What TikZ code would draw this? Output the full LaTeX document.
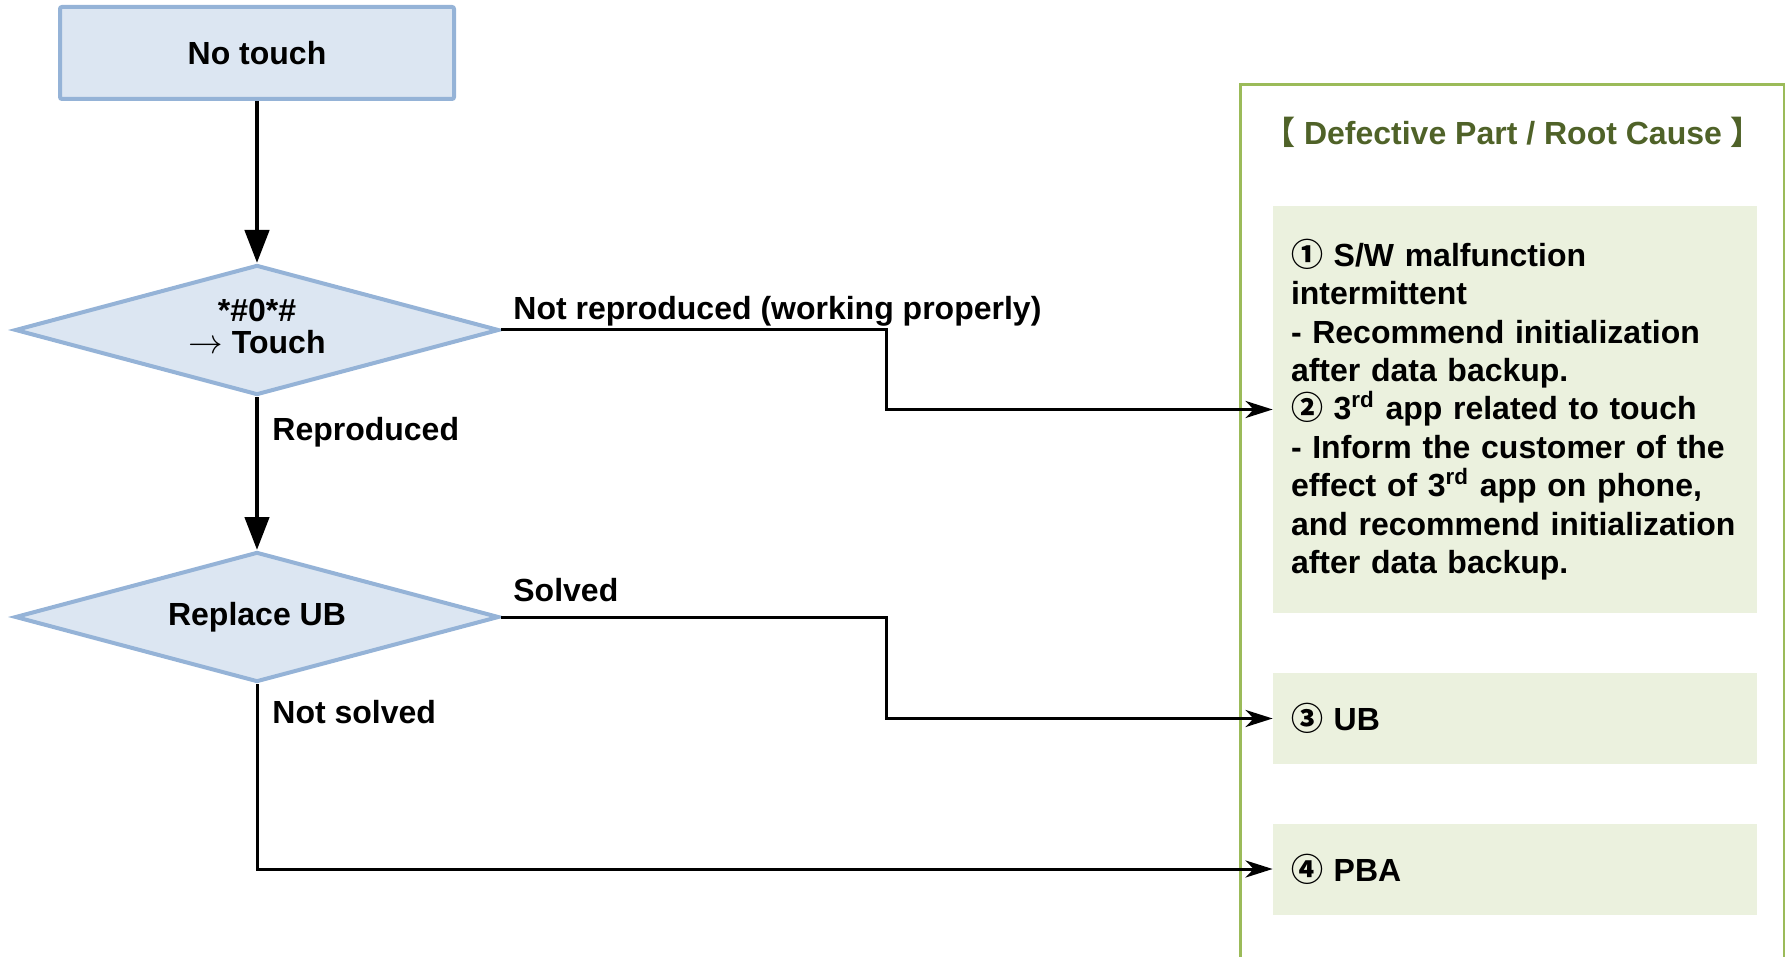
\documentclass[tikz,border=0pt]{standalone}
\usepackage{fontspec}
\setmainfont{Liberation Sans}
\newfontfamily\cjkf{Noto Sans CJK SC}
\usetikzlibrary{shapes.geometric,arrows.meta}
\definecolor{flowfill}{HTML}{DCE6F2}
\definecolor{flowline}{HTML}{95B3D7}
\definecolor{causeline}{HTML}{9BBB59}
\definecolor{causefill}{HTML}{EBF1DE}
\definecolor{causetitle}{HTML}{4F6228}
% circled numbers and corner brackets come from the CJK family
\newcommand{\cnum}[1]{{\cjkf #1}}

\begin{document}
\begin{tikzpicture}[x=0.5pt,y=-0.5pt,
  every node/.style={font=\fontsize{16}{19.2}\selectfont\bfseries, inner sep=0pt},
  startbox/.style={draw=flowline, fill=flowfill, line width=2pt, rounded corners=1pt,
    minimum width=197pt, minimum height=46pt},
  decision/.style={diamond, draw=flowline, fill=flowfill, line width=2pt, aspect=3.7,
    minimum width=242pt, minimum height=65pt, align=center},
  causebox/.style={fill=causefill, minimum width=242pt, text width=224pt,
    inner xsep=9pt, inner ysep=0pt, align=left},
  frame/.style={draw=causeline, line width=1.5pt, anchor=north west,
    minimum width=272pt, minimum height=460pt},
  mainflow/.style={line width=2.3pt, -{Triangle[width=12pt,length=16.5pt]}},
  branch/.style={line width=1.5pt, -{Stealth[length=13.5pt,width=8.5pt,inset=4pt]}},
  edgelabel/.style={anchor=base west},
]
\useasboundingbox (0,0) rectangle (1785,957);

% flow on the left
\node[startbox] (notouch) at (257,53) {No touch};
\node[decision, font=\fontsize{16}{16}\selectfont\bfseries] (d1) at (257,330)
  {*\#0*\#\\ $\rightarrow$ Touch\rule[-3.5pt]{0pt}{0pt}};
\node[decision] (d2) at (257,617) {Replace UB};

% cause panel on the right
\node[frame] (panel) at (1239,83) {};
\node[anchor=base, text=causetitle] (title) at (1513,145)
  {{\cjkf 【} Defective Part / Root Cause {\cjkf 】}};
\node[causebox, minimum height=203.5pt] (cause) at (1515,409.5)
  {\cnum{①} S/W malfunction\\
   intermittent\\
   - Recommend initialization\\
   after data backup.\\
   \cnum{②} 3\textsuperscript{rd} app related to touch\\
   - Inform the customer of the\\
   effect of 3\textsuperscript{rd} app on phone,\\
   and recommend initialization\\
   after data backup.};
\node[causebox, minimum height=45.5pt] (ub) at (1515,718.5) {\cnum{③} UB};
\node[causebox, minimum height=45.5pt] (pba) at (1515,869) {\cnum{④} PBA};

% connectors
\draw[mainflow] (notouch) -- (d1);
\draw[mainflow] (d1) -- (d2);
\coordinate (bendA) at (886,330);
\coordinate (bendB) at (886,617);
\draw[branch] (d1.east) -- (bendA) |- (cause.west);
\draw[branch] (d2.east) -- (bendB) |- (ub.west);
\draw[branch] (d2.south) |- (pba.west);

% branch labels
\node[edgelabel] (lblnr) at (513,320) {Not reproduced (working properly)};
\node[edgelabel] (lblr) at (272,441) {Reproduced};
\node[edgelabel] (lbls) at (513,601) {Solved};
\node[edgelabel] (lblns) at (272,723) {Not solved};
\end{tikzpicture}
\end{document}
